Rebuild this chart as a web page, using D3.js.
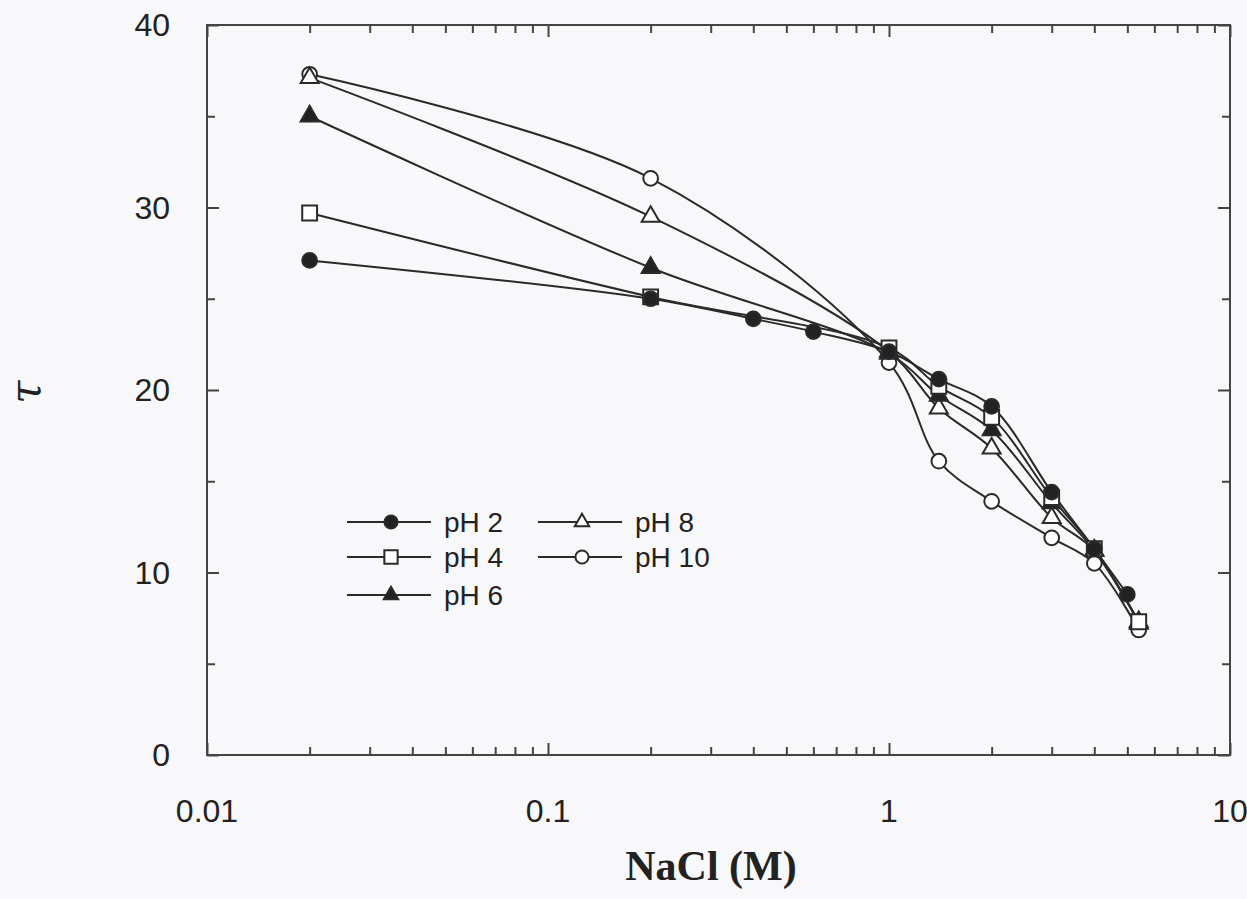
<!DOCTYPE html>
<html>
<head>
  <meta charset="utf-8">
  <title>tau vs NaCl</title>
  <script src="https://d3js.org/d3.v7.min.js"></script>
  <style>
    body { margin: 0; background: #f8f7f9; }
    svg text { fill: #222; }
  </style>
</head>
<body>
<script>
  // salt concentrations (M) and tau for each pH
  var naclMain = [0.02, 0.2, 1, 1.4, 2, 3, 4, 5.4];
  var naclPH2 = [0.02, 0.2, 0.4, 0.6, 1, 1.4, 2, 3, 4, 5];
  var tauPH2  = [27.1, 25.0, 23.9, 23.2, 22.1, 20.6, 19.1, 14.4, 11.3, 8.8];
  var tauPH4  = [29.7, 25.1, 22.3, 20.2, 18.5, 14.1, 11.3, 7.3];
  var tauPH6  = [35.0, 26.7, 22.0, 19.7, 17.8, 13.8, 11.2, 7.3];
  var tauPH8  = [37.1, 29.5, 22.1, 19.0, 16.8, 13.0, 11.2, 7.2];
  var tauPH10 = [37.3, 31.6, 21.5, 16.1, 13.9, 11.9, 10.5, 6.85];
  var seriesNames = ["pH 2", "pH 4", "pH 6", "pH 8", "pH 10"];
  var xTickLabels = [0.01, 0.1, 1, 10];
  var yTickLabels = [0, 10, 20, 30, 40];

  var series = [
    {name: seriesNames[0], x: naclPH2, y: tauPH2, sym: d3.symbolCircle, fill: "#222"},
    {name: seriesNames[1], x: naclMain, y: tauPH4, sym: d3.symbolSquare, fill: "#fff"},
    {name: seriesNames[2], x: naclMain, y: tauPH6, sym: d3.symbolTriangle, fill: "#222"},
    {name: seriesNames[3], x: naclMain, y: tauPH8, sym: d3.symbolTriangle, fill: "#fff"},
    {name: seriesNames[4], x: naclMain, y: tauPH10, sym: d3.symbolCircle, fill: "#fff"}
  ];
  var symSize = {circle: 170, square: 220, triangle: 140};
  function sizeOf(s) {
    if (s.sym === d3.symbolSquare) return symSize.square;
    if (s.sym === d3.symbolTriangle) return symSize.triangle;
    return symSize.circle;
  }

  var W = 1247, H = 899;
  var L = 207, R = 1230, T = 25, B = 755;
  var svg = d3.select("body").append("svg").attr("width", W).attr("height", H);

  var x = d3.scaleLog().domain([0.01, 10]).range([L, R]);
  var y = d3.scaleLinear().domain([0, 40]).range([B, T]);

  var ink = "#444";
  svg.append("rect").attr("x", L).attr("y", T).attr("width", R - L).attr("height", B - T)
    .attr("fill", "none").attr("stroke", ink).attr("stroke-width", 2);

  /* log ticks, inward on bottom and top */
  var xt = x.ticks();
  var isMajor = function(v) { return xTickLabels.indexOf(+v.toPrecision(3)) >= 0; };
  svg.append("g").attr("transform", "translate(0," + B + ")")
    .call(d3.axisTop(x).tickValues(xt).tickFormat("").tickSizeOuter(0))
    .call(function(g) {
      g.select(".domain").remove();
      g.selectAll(".tick line").attr("stroke", ink).attr("stroke-width", 2)
        .attr("y2", function(d) { return isMajor(d) ? -12 : -8; });
    });
  svg.append("g").attr("transform", "translate(0," + T + ")")
    .call(d3.axisBottom(x).tickValues(xt).tickFormat("").tickSizeOuter(0))
    .call(function(g) {
      g.select(".domain").remove();
      g.selectAll(".tick line").attr("stroke", ink).attr("stroke-width", 2)
        .attr("y2", function(d) { return isMajor(d) ? 12 : 8; });
    });
  svg.append("g").selectAll("text").data(xTickLabels).enter().append("text")
    .attr("x", function(d) { return x(d); }).attr("y", 822)
    .attr("text-anchor", "middle")
    .style("font", "32px 'Liberation Sans', Arial, sans-serif")
    .text(function(d) { return d; });

  /* y ticks every 5, inward on left and right */
  var yt = d3.range(0, 41, 5);
  svg.append("g").attr("transform", "translate(" + L + ",0)")
    .call(d3.axisRight(y).tickValues(yt).tickFormat("").tickSizeOuter(0))
    .call(function(g) {
      g.select(".domain").remove();
      g.selectAll(".tick line").attr("stroke", ink).attr("stroke-width", 2)
        .attr("x2", function(d) { return d % 10 === 0 ? 12 : 8; });
    });
  svg.append("g").attr("transform", "translate(" + R + ",0)")
    .call(d3.axisLeft(y).tickValues(yt).tickFormat("").tickSizeOuter(0))
    .call(function(g) {
      g.select(".domain").remove();
      g.selectAll(".tick line").attr("stroke", ink).attr("stroke-width", 2)
        .attr("x2", function(d) { return d % 10 === 0 ? -12 : -8; });
    });
  svg.append("g").selectAll("text").data(yTickLabels).enter().append("text")
    .attr("x", 170).attr("y", function(d) { return y(d) + 11; })
    .attr("text-anchor", "end")
    .style("font", "32px 'Liberation Sans', Arial, sans-serif")
    .text(function(d) { return d; });

  // axis titles
  svg.append("text").attr("x", 711).attr("y", 880).attr("text-anchor", "middle")
    .style("font", "bold 42px 'Liberation Serif', 'Times New Roman', serif")
    .text("NaCl (M)");
  svg.append("text").attr("transform", "translate(40,392) rotate(-90)")
    .attr("text-anchor", "middle")
    .style("font", "italic 42px 'DejaVu Serif', serif")
    .text("τ");

  /* curves then markers */
  var line = d3.line().curve(d3.curveCatmullRom.alpha(0.5));
  series.forEach(function(s) {
    var pts = s.x.map(function(v, i) { return [x(v), y(s.y[i])]; });
    svg.append("path").attr("d", line(pts)).attr("fill", "none")
      .attr("stroke", "#2a2a2a").attr("stroke-width", 2);
  });
  series.slice().reverse().forEach(function(s) {
    var sym = d3.symbol().type(s.sym).size(sizeOf(s));
    svg.append("g").selectAll("path").data(s.x).enter().append("path")
      .attr("transform", function(v, i) { return "translate(" + x(v) + "," + y(s.y[i]) + ")"; })
      .attr("d", sym).attr("fill", s.fill).attr("stroke", "#2a2a2a").attr("stroke-width", 2);
  });

  // legend
  var legPos = [[347, 522], [347, 557], [347, 595], [538, 522], [538, 557]];
  series.forEach(function(s, i) {
    var p = legPos[i];
    var g = svg.append("g").attr("transform", "translate(" + p[0] + "," + p[1] + ")");
    g.append("line").attr("x1", 0).attr("x2", 84).attr("stroke", "#2a2a2a").attr("stroke-width", 2);
    var sz = s.sym === d3.symbolTriangle ? 90 : sizeOf(s) * 0.8;
    g.append("path").attr("transform", "translate(44,0)")
      .attr("d", d3.symbol().type(s.sym).size(sz))
      .attr("fill", s.fill).attr("stroke", "#2a2a2a").attr("stroke-width", 2);
    g.append("text").attr("x", 97).attr("y", 10)
      .style("font", "28px 'Liberation Sans', Arial, sans-serif")
      .text(s.name);
  });
</script>
</body>
</html>
